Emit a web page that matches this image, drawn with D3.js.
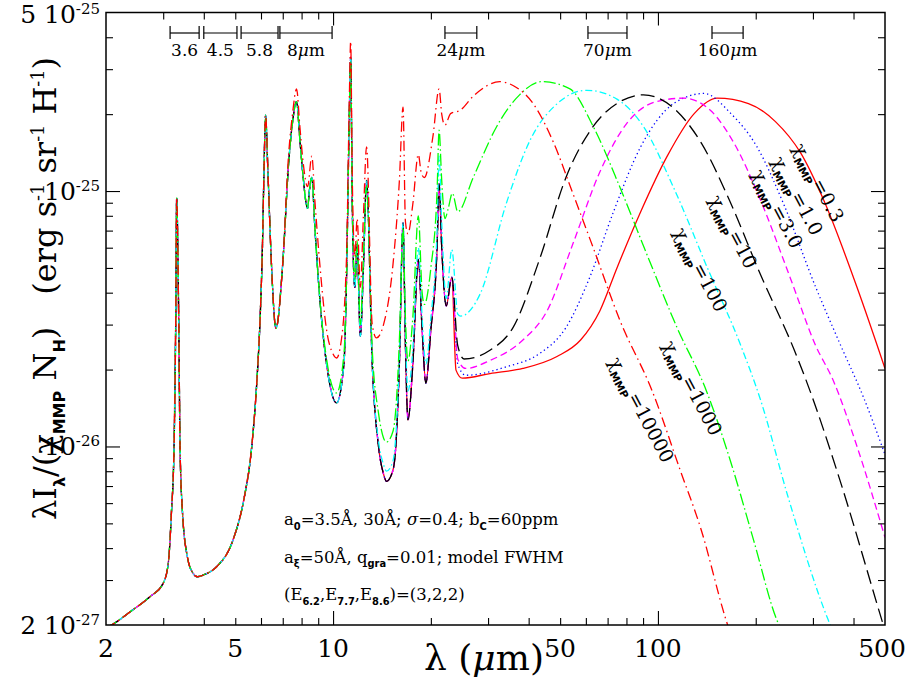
<!DOCTYPE html>
<html>
<head>
<meta charset="utf-8">
<script src="https://cdn.jsdelivr.net/npm/d3@7"></script>
<style>
    body { margin: 0; background: #fff; }
    svg text { font-family: "DejaVu Serif", serif; fill: #000; }
</style>
</head>
<body>
<svg id="chart" width="911" height="681"></svg>
<script>
/* ===== DATA (wavelength in um, lambda*I in units of 1e-27 erg s-1 sr-1 H-1) ===== */

// near-IR part, common to every radiation field
const pahNear = [
    [2.0, 1.95], [2.08, 2.0], [2.37, 2.25], [2.73, 2.58], [3.0, 2.91], [3.11, 3.49],
    [3.18, 5.5], [3.24, 10], [3.28, 33], [3.30, 94], [3.35, 30], [3.38, 10], [3.44, 5.5],
    [3.56, 3.7], [3.7, 3.2], [3.82, 3.09], [3.99, 3.14], [4.38, 3.38], [4.92, 4.3],
    [5.3, 6.1], [5.62, 10], [5.83, 18.2], [5.97, 33], [6.06, 60], [6.12, 110], [6.2, 198],
    [6.3, 120], [6.46, 52], [6.67, 29], [7.0, 52]
];

// 7.7 / 8.6 complex for chi <= 1000
const pah78 = [
    [7.3, 129], [7.5, 185], [7.72, 224], [7.9, 160], [8.06, 119], [8.35, 85.5],
    [8.45, 100], [8.6, 113], [8.8, 70], [9.1, 38]
];

// 9.5 - 23 um for chi <= 10
const midLow = [
    [9.55, 21], [10.25, 14.8], [10.8, 21], [11.0, 45], [11.2, 174], [11.33, 335],
    [11.45, 94], [11.55, 52], [11.67, 42], [11.86, 62], [12.13, 27], [12.4, 50],
    [12.68, 110], [13.2, 21], [13.8, 10], [14.3, 7.8], [14.6, 7.3], [15.3, 8.1],
    [15.6, 10], [16.0, 21], [16.42, 75], [16.7, 25], [17.0, 12.7], [17.6, 21],
    [18.3, 54], [18.8, 28.6], [19.3, 17.7], [20.0, 28.6], [20.9, 60], [21.2, 107],
    [21.6, 60], [22.3, 35.5], [23.2, 46]
];

const tail03 = [
    [23.9, 19.9], [25.0, 18.5], [30.4, 19.3], [38.4, 20.2], [48.9, 22.5], [57.8, 26.1],
    [66.3, 34], [74.8, 50], [88.5, 83], [106.8, 137], [129.3, 201], [152, 231],
    [190, 220], [230, 187], [275, 141], [324, 92], [410, 42], [500, 20.2]
];
const tail1 = [
    [24.2, 21], [25.6, 19.0], [34.1, 20.5], [43.2, 23.1], [52.1, 29.2], [61.7, 46],
    [73, 83], [88.5, 149], [111.8, 220], [138.6, 241], [167.8, 201], [201.8, 149],
    [243.7, 89], [306, 42], [363, 25.3], [430, 15.5], [500, 9.3]
];
const tail3 = [
    [24.2, 22], [25.6, 20.2], [30.4, 21.7], [38.4, 26.1], [45.6, 34], [54.7, 62],
    [66.3, 119], [80.2, 184], [99, 224], [120, 231], [145, 207], [172, 153],
    [207, 92], [255, 46], [306, 24.8], [346, 18.2], [410, 10], [500, 4.4]
];
const tail10 = [
    [24.2, 24.8], [25.3, 22], [30.4, 23.8], [35.8, 29.2], [43.2, 54], [52.1, 113],
    [63.2, 179], [76.5, 224], [90.2, 238], [111.8, 211], [136.5, 153], [166, 92],
    [207, 47], [263, 23.8], [296, 16.1], [363, 7.4], [483, 2.2], [500, 1.9]
];

// chi = 100 from 13 um on
const mid100 = [
    [13.2, 21], [13.8, 10.5], [14.3, 8.5], [14.6, 8.0], [15.3, 8.8], [15.6, 11],
    [16.0, 22], [16.42, 75], [16.7, 28], [17.0, 16.5], [17.6, 24], [18.3, 60],
    [18.8, 32], [19.3, 21], [20.0, 32], [20.9, 70], [21.2, 137], [21.6, 75],
    [22.3, 38], [23.2, 59], [24.2, 33], [24.7, 32.4], [28.4, 39.7], [34.1, 89],
    [40.4, 158], [49, 220], [60.4, 248], [74.8, 229], [90.2, 179], [111.8, 103],
    [142, 50], [180, 24.8], [207, 15.2], [251, 6.4], [334, 2.1], [345, 1.9]
];

// chi = 1000 from 9.5 um on
const mid1000 = [
    [9.55, 22], [10.25, 16.2], [10.8, 23], [11.0, 45], [11.2, 174], [11.33, 320],
    [11.45, 94], [11.55, 56], [11.67, 45], [11.86, 64], [12.13, 30], [12.4, 55],
    [12.68, 105], [13.2, 24], [13.8, 13.5], [14.3, 10.8], [14.6, 10.4], [15.3, 11.5],
    [15.6, 14], [16.0, 26], [16.42, 72], [16.7, 32], [17.0, 21.6], [17.6, 32],
    [18.3, 80], [18.8, 40], [19.1, 36], [20.0, 50], [20.9, 100], [21.2, 173],
    [21.6, 110], [22.1, 78], [22.6, 85], [23.3, 98], [24.2, 83], [27, 113],
    [31.9, 179], [37.5, 238], [43.9, 268], [53.6, 251], [63.2, 179], [76.5, 103],
    [92.2, 57], [114.5, 29.2], [141, 16.5], [168, 8.6], [197, 4.3], [232, 2.1], [240, 1.9]
];

// chi = 10000 from 7.3 um on
const mid10000 = [
    [7.3, 140], [7.5, 200], [7.72, 251], [7.9, 180], [8.06, 135], [8.35, 104],
    [8.6, 137], [8.8, 90], [9.1, 52], [9.55, 28.6], [10.0, 23], [10.25, 22.2],
    [10.6, 26], [11.0, 55], [11.2, 200], [11.33, 385], [11.45, 120], [11.55, 70],
    [11.67, 55], [11.86, 78], [12.13, 42], [12.4, 80], [12.68, 149], [13.2, 30],
    [13.6, 26.6], [14.3, 30], [15.3, 52], [16.0, 110], [16.42, 213], [16.7, 76],
    [17.0, 68], [17.6, 89], [18.3, 139], [18.7, 117], [19.1, 113], [20.3, 164],
    [21.2, 251], [21.6, 200], [22.1, 181], [23.0, 201], [24.6, 207], [27, 235],
    [32.6, 268], [35.8, 259], [41.3, 220], [47.9, 153], [54.7, 98], [63.2, 60],
    [76.5, 31], [96, 16.5], [117, 8.1], [136, 4.7], [161, 2.15], [166, 1.9]
];

const chiValues = ["0.3", "1.0", "3.0", "10", "100", "1000", "10000"];
const seriesPoints = [
    pahNear.concat(pah78, midLow, tail03),
    pahNear.concat(pah78, midLow, tail1),
    pahNear.concat(pah78, midLow, tail3),
    pahNear.concat(pah78, midLow, tail10),
    pahNear.concat(pah78, midLow.slice(0, 13), mid100),
    pahNear.concat(pah78, mid1000),
    pahNear.concat(mid10000)
];
// where each curve label sits (um, 1e-27 units)
const chiLabelAt = [[311, 107.6], [268, 95.6], [232.6, 85], [170, 69.1], [134.8, 49.1], [127.3, 16.9], [88.7, 13.9]];

// photometric bands at the top
const bandNames = ["3.6", "4.5", "5.8", "8", "24", "70", "160"];
const bandLo = [3.15, 4.0, 5.21, 6.86, 22.1, 60.9, 146.7];
const bandHi = [3.87, 5.06, 6.77, 9.93, 27.7, 80.3, 182.9];
const bandUnit = [false, false, false, true, true, true, true];

const xMinorTicks = [3, 4, 5, 6, 7, 8, 9, 20, 30, 40, 50, 60, 70, 80, 90, 200, 300, 400];
const xMajorTicks = [10, 100];
const xTickLabels = [2, 5, 10, 50, 100, 500];
const yMinorTicks = [3, 4, 5, 6, 7, 8, 9, 20, 30, 40, 50, 60, 70, 80, 90, 200, 300, 400];
const yMajorTicks = [10, 100];
const yTickVals = [2, 10, 100, 500];
const yTickMant = ["2 ", "", "", "5 "];
const yTickExp = ["-27", "-26", "-25", "-25"];

/* ===== STYLES ===== */
const lineColors = ["#ff0000", "#0000ff", "#ff00ff", "#000000", "#00ffff", "#00ff00", "#ff0000"];
const lineDash = [null, "1.3,3", "7,4", "14,6", "7,3,1.5,3", "12,3,1.5,3", "10,4,1.5,4"];

/* ===== CHART ===== */
const svg = d3.select("#chart");
const m = { left: 106, right: 885, top: 12.5, bottom: 625 };

const x = d3.scaleLog().domain([2, 500]).range([m.left, m.right]);
const y = d3.scaleLog().domain([2, 500]).range([m.bottom, m.top]);

// rich text: parts = [[string, kind]] kind n | sub | sup | i
function rich(sel, parts, size, subScale = 0.6) {
    let shift = 0;
    parts.forEach(([s, k]) => {
        const target = k === "sub" ? size * 0.28 : k === "sup" ? -size * 0.36 : 0;
        const t = sel.append("tspan").attr("dy", target - shift).text(s);
        if (k === "sub" || k === "sup") {
            t.attr("font-size", size * subScale);
            if (k === "sub") t.attr("font-weight", "bold").attr("font-family", "DejaVu Sans, sans-serif");
        } else {
            t.attr("font-size", size);
        }
        if (k === "i") t.attr("font-style", "italic");
        shift = target;
    });
}

svg.append("defs").append("clipPath").attr("id", "plotclip")
    .append("rect")
    .attr("x", m.left).attr("y", m.top)
    .attr("width", m.right - m.left).attr("height", m.bottom - m.top);

// curves
const line = d3.line()
    .x(d => x(d[0]))
    .y(d => y(d[1]))
    .curve(d3.curveMonotoneX);

const curves = svg.append("g").attr("clip-path", "url(#plotclip)");
seriesPoints.forEach((pts, i) => {
    curves.append("path")
        .attr("d", line(pts))
        .attr("fill", "none")
        .attr("stroke", lineColors[i])
        .attr("stroke-width", 1.3)
        .attr("stroke-dasharray", lineDash[i]);
});

// ticks on all four sides
function ticks(gen, tr, values, size) {
    svg.append("g")
        .attr("transform", tr)
        .call(gen.tickValues(values).tickSize(size).tickFormat(""))
        .call(g => g.select(".domain").remove())
        .selectAll("line").attr("stroke", "#000").attr("stroke-width", 1.1);
}
ticks(d3.axisBottom(x), `translate(0,${m.bottom})`, xMinorTicks, -7);
ticks(d3.axisBottom(x), `translate(0,${m.bottom})`, xMajorTicks, -14);
ticks(d3.axisTop(x), `translate(0,${m.top})`, xMinorTicks, -7);
ticks(d3.axisTop(x), `translate(0,${m.top})`, xMajorTicks, -13);
ticks(d3.axisLeft(y), `translate(${m.left},0)`, yMinorTicks, -7);
ticks(d3.axisLeft(y), `translate(${m.left},0)`, yMajorTicks, -14);
ticks(d3.axisRight(y), `translate(${m.right},0)`, yMinorTicks, -7);
ticks(d3.axisRight(y), `translate(${m.right},0)`, yMajorTicks, -14);

svg.append("rect")
    .attr("x", m.left).attr("y", m.top)
    .attr("width", m.right - m.left).attr("height", m.bottom - m.top)
    .attr("fill", "none").attr("stroke", "#000").attr("stroke-width", 1.5);

// x tick labels
svg.append("g").selectAll("text").data(xTickLabels).join("text")
    .attr("x", d => d === 500 ? x(d) - 3 : x(d))
    .attr("y", 657)
    .attr("text-anchor", "middle")
    .attr("font-size", 25)
    .text(d => d);

// y tick labels
yTickVals.forEach((v, i) => {
    const t = svg.append("text")
        .attr("x", 100)
        .attr("y", v === 500 ? y(v) + 10 : y(v) + 9)
        .attr("text-anchor", "end");
    rich(t, [[yTickMant[i] + "10", "n"], [yTickExp[i], "sup"]], 25);
});

// axis titles
const xt = svg.append("text")
    .attr("x", 484).attr("y", 670)
    .attr("text-anchor", "middle")
    .attr("font-size", 36);
xt.append("tspan").text("λ (");
xt.append("tspan").attr("font-style", "italic").text("μ");
xt.append("tspan").text("m)");

const yt1 = svg.append("text")
    .attr("transform", "translate(56,520) rotate(-90)")
    .attr("text-anchor", "start");
rich(yt1, [["λI", "n"], ["λ", "sub"], ["/(χ", "n"], ["MMP", "sub"], [" N", "n"], ["H", "sub"], [")", "n"]], 32, 0.5);

const yt2 = svg.append("text")
    .attr("transform", "translate(56,57) rotate(-90)")
    .attr("text-anchor", "end");
rich(yt2, [["(erg s", "n"], ["-1", "sup"], [" sr", "n"], ["-1", "sup"], [" H", "n"], ["-1", "sup"], [")", "n"]], 32, 0.55);

// band markers
const bands = svg.append("g");
bandNames.forEach((b, i) => {
    const x0 = x(bandLo[i]), x1 = x(bandHi[i]);
    bands.append("line").attr("x1", x0).attr("x2", x1).attr("y1", 33).attr("y2", 33);
    bands.append("line").attr("x1", x0).attr("x2", x0).attr("y1", 26).attr("y2", 39);
    bands.append("line").attr("x1", x1).attr("x2", x1).attr("y1", 26).attr("y2", 39);
    const t = bands.append("text")
        .attr("x", (x0 + x1) / 2)
        .attr("y", 56)
        .attr("text-anchor", "middle")
        .attr("font-size", 17)
        .text(b);
    if (bandUnit[i]) {
        t.append("tspan").attr("font-style", "italic").text("μ");
        t.append("tspan").text("m");
    }
});
bands.selectAll("line").attr("stroke", "#000").attr("stroke-width", 1.2);

// curve labels
chiValues.forEach((c, i) => {
    const [lx, ly] = chiLabelAt[i];
    const t = svg.append("text")
        .attr("transform", `translate(${x(lx)},${y(ly)}) rotate(62)`)
        .attr("text-anchor", "middle")
        .attr("y", 6);
    rich(t, [["χ", "n"], ["MMP", "sub"], ["=" + c, "n"]], 19, 0.55);
});

// model parameters
const notes = [
    [["a", "n"], ["0", "sub"], ["=3.5Å, 30Å; ", "n"], ["σ", "i"], ["=0.4; b", "n"], ["C", "sub"], ["=60ppm", "n"]],
    [["a", "n"], ["ξ", "sub"], ["=50Å, q", "n"], ["gra", "sub"], ["=0.01; model FWHM", "n"]],
    [["(E", "n"], ["6.2", "sub"], [",E", "n"], ["7.7", "sub"], [",E", "n"], ["8.6", "sub"], [")=(3,2,2)", "n"]]
];
notes.forEach((parts, i) => {
    const t = svg.append("text").attr("x", 284).attr("y", 525 + i * 37.5);
    rich(t, parts, 16.5);
});
</script>
</body>
</html>
